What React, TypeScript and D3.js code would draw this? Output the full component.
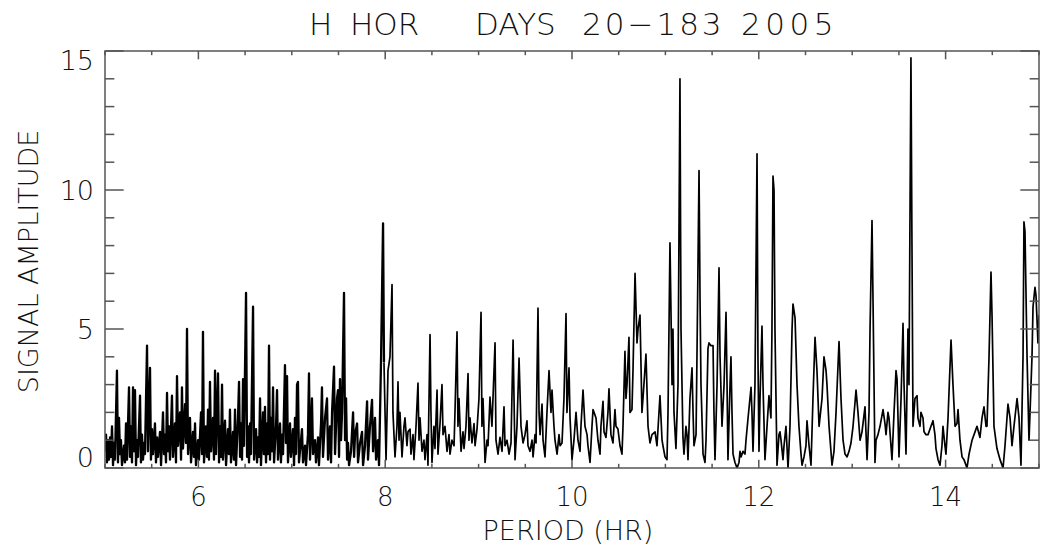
import React from "react";
import * as d3 from "d3";

// Title & axis text
const titleWords = ["H ", "HOR    ", "DAYS  ", "20−183 ", "2005"];
const xTitle = "PERIOD (HR)";
const yTitle = "SIGNAL AMPLITUDE";
const xTickLabels = [6, 8, 10, 12, 14];
const yTickLabels = [0, 5, 10, 15];

// [period (hr), amplitude] turning points
const band5to6_5: [number, number][] = [
  [5.0, 0.6], [5.011, 1.2], [5.021, 0.2], [5.032, 1.0], [5.043, 0.3], [5.054, 1.1], [5.064, 0.4], [5.075, 1.5],
  [5.086, 0.1], [5.096, 0.9], [5.107, 0.3], [5.128, 3.5], [5.139, 0.2], [5.15, 1.8], [5.161, 0.5], [5.171, 1.0],
  [5.182, 0.1], [5.203, 0.8], [5.214, 0.2], [5.225, 1.6], [5.236, 0.3], [5.257, 2.9], [5.268, 0.4], [5.278, 1.5],
  [5.289, 0.2], [5.3, 2.9], [5.311, 0.6], [5.321, 2.8], [5.332, 0.1], [5.343, 1.0], [5.353, 0.4], [5.375, 2.6],
  [5.385, 0.2], [5.396, 1.2], [5.407, 0.3], [5.418, 0.9], [5.428, 0.5], [5.45, 4.4], [5.46, 0.6], [5.482, 3.6],
  [5.492, 0.3], [5.503, 1.4], [5.514, 0.5], [5.535, 1.6], [5.546, 0.2], [5.557, 1.1], [5.567, 0.4], [5.589, 1.3],
  [5.6, 0.1], [5.621, 2.0], [5.632, 0.5], [5.642, 1.2], [5.653, 0.2], [5.664, 2.7], [5.675, 0.6], [5.685, 1.5],
  [5.696, 0.3], [5.717, 2.6], [5.728, 0.4], [5.749, 1.6], [5.76, 0.2], [5.771, 3.3], [5.782, 0.8], [5.803, 2.0],
  [5.814, 0.3], [5.824, 2.9], [5.835, 0.7], [5.857, 2.3], [5.867, 0.9], [5.878, 5.0], [5.889, 0.5], [5.91, 1.8],
  [5.921, 0.2], [5.942, 1.3], [5.953, 0.4], [5.964, 1.6], [5.974, 0.1], [5.996, 1.0], [6.006, 0.3], [6.028, 2.0],
  [6.039, 0.5], [6.049, 4.9], [6.06, 0.2], [6.081, 1.5], [6.092, 0.4], [6.103, 2.1], [6.113, 0.3], [6.124, 3.1],
  [6.135, 0.6], [6.156, 1.8], [6.167, 0.3], [6.178, 3.5], [6.188, 0.5], [6.21, 3.4], [6.221, 0.2], [6.231, 1.5],
  [6.242, 0.4], [6.253, 3.0], [6.263, 0.3], [6.285, 1.7], [6.296, 0.1], [6.317, 1.4], [6.328, 0.5], [6.338, 2.1],
  [6.349, 0.2], [6.371, 1.3], [6.381, 0.3], [6.392, 2.1], [6.403, 0.1], [6.424, 1.8], [6.435, 3.1], [6.446, 0.4],
  [6.456, 1.6], [6.467, 0.3], [6.478, 3.2], [6.488, 0.8],
];

const band6_5to8: [number, number][] = [
  [6.51, 6.3], [6.521, 0.4], [6.531, 1.5], [6.542, 0.2], [6.553, 1.6], [6.563, 0.5], [6.585, 5.8], [6.596, 0.3],
  [6.617, 1.4], [6.628, 0.2], [6.638, 1.1], [6.649, 0.4], [6.66, 2.5], [6.67, 0.1], [6.692, 2.0], [6.702, 0.5],
  [6.713, 2.2], [6.724, 0.2], [6.735, 1.6], [6.745, 0.5], [6.756, 4.4], [6.767, 0.3], [6.777, 1.8], [6.788, 0.6],
  [6.799, 2.9], [6.81, 0.2], [6.831, 1.5], [6.842, 2.8], [6.852, 0.3], [6.874, 1.6], [6.884, 0.2], [6.895, 1.2],
  [6.906, 0.5], [6.927, 3.7], [6.938, 0.9], [6.949, 3.3], [6.959, 0.2], [6.981, 1.6], [6.991, 0.4], [7.013, 1.4],
  [7.024, 0.1], [7.034, 1.8], [7.045, 0.5], [7.056, 3.0], [7.066, 3.1], [7.077, 0.2], [7.109, 1.4], [7.12, 0.2],
  [7.141, 0.8], [7.152, 0.1], [7.173, 1.2], [7.184, 3.4], [7.195, 0.3], [7.216, 2.5], [7.227, 0.5], [7.248, 1.0],
  [7.259, 0.2], [7.281, 1.1], [7.291, 0.1], [7.313, 1.6], [7.323, 2.9], [7.334, 0.4], [7.356, 1.8], [7.377, 2.5],
  [7.388, 0.3], [7.409, 1.5], [7.42, 0.2], [7.431, 2.0], [7.452, 3.65], [7.463, 0.5], [7.484, 2.5], [7.495, 2.8],
  [7.506, 0.4], [7.516, 3.2], [7.527, 1.0], [7.538, 2.0], [7.559, 6.3], [7.57, 1.0], [7.581, 2.5], [7.592, 0.3],
  [7.602, 0.9], [7.613, 0.1], [7.634, 0.6], [7.656, 2.0], [7.667, 0.4], [7.677, 1.2], [7.699, 1.6], [7.709, 0.2],
  [7.731, 0.9], [7.752, 1.3], [7.763, 0.1], [7.784, 0.8], [7.806, 2.4], [7.816, 0.3], [7.837, 1.5], [7.859, 2.45],
  [7.87, 0.6], [7.891, 1.8], [7.902, 0.3], [7.923, 1.0], [7.934, 0.1], [7.955, 3.8], [7.977, 8.8], [7.987, 3.8],
];

const band8to10: [number, number][] = [
  [8.009, 0.3], [8.03, 3.5], [8.051, 4.0], [8.073, 6.6], [8.083, 2.0], [8.105, 0.4], [8.126, 1.5], [8.137, 3.1],
  [8.148, 1.0], [8.158, 2.0], [8.18, 0.4], [8.201, 1.5], [8.212, 1.8], [8.233, 0.8], [8.244, 1.3], [8.266, 1.4],
  [8.276, 0.5], [8.298, 1.2], [8.308, 0.3], [8.33, 1.5], [8.351, 3.05], [8.362, 1.0], [8.373, 1.8], [8.394, 0.6],
  [8.415, 1.0], [8.426, 0.3], [8.448, 1.2], [8.458, 0.1], [8.48, 4.8], [8.49, 2.0], [8.501, 0.2], [8.522, 1.5],
  [8.533, 0.7], [8.555, 2.8], [8.565, 0.5], [8.587, 1.6], [8.608, 3.0], [8.619, 1.2], [8.64, 1.5], [8.662, 0.6],
  [8.683, 1.2], [8.694, 0.5], [8.715, 1.0], [8.737, 0.8], [8.747, 2.0], [8.769, 4.9], [8.779, 1.5], [8.79, 2.5],
  [8.812, 0.6], [8.833, 1.3], [8.844, 0.7], [8.865, 1.5], [8.887, 3.4], [8.897, 1.0], [8.908, 1.8], [8.929, 0.9],
  [8.951, 1.6], [8.962, 0.8], [8.983, 1.4], [9.004, 2.5], [9.026, 5.6], [9.036, 1.5], [9.047, 2.5], [9.069, 0.2],
  [9.09, 1.0], [9.101, 0.8], [9.122, 2.55], [9.143, 1.5], [9.154, 2.5], [9.176, 4.5], [9.186, 1.0], [9.208, 0.5],
  [9.229, 1.1], [9.251, 0.6], [9.272, 2.2], [9.283, 0.8], [9.304, 1.0], [9.326, 0.5], [9.347, 0.9], [9.369, 4.6],
  [9.39, 0.3], [9.411, 1.5], [9.433, 3.95], [9.454, 1.5], [9.476, 0.9], [9.497, 1.2], [9.518, 1.7], [9.529, 0.8],
  [9.55, 0.6], [9.572, 1.0], [9.583, 0.4], [9.604, 1.2], [9.615, 0.9], [9.636, 5.75], [9.647, 2.0], [9.658, 1.2],
  [9.679, 2.3], [9.69, 1.0], [9.711, 0.4], [9.732, 2.0], [9.754, 3.5], [9.775, 2.0], [9.786, 2.8], [9.807, 1.5],
  [9.818, 1.0], [9.84, 0.5], [9.861, 1.2], [9.872, 0.8], [9.893, 0.9], [9.914, 2.5], [9.936, 5.55], [9.946, 2.0],
  [9.968, 3.6], [9.979, 1.8], [10.0, 0.3],
];

const band10to12: [number, number][] = [
  [10.021, 1.0], [10.043, 2.0], [10.064, 1.0], [10.086, 0.6], [10.096, 1.5], [10.118, 2.8], [10.139, 1.5],
  [10.161, 1.2], [10.171, 0.8], [10.193, 0.2], [10.214, 1.5], [10.225, 2.1], [10.236, 2.0], [10.257, 1.8],
  [10.278, 1.0], [10.3, 0.5], [10.31, 1.5], [10.332, 2.4], [10.343, 1.3], [10.364, 1.1], [10.385, 2.0],
  [10.396, 2.85], [10.417, 1.2], [10.439, 0.9], [10.46, 2.1], [10.471, 1.5], [10.492, 1.4], [10.514, 0.8],
  [10.535, 0.5], [10.546, 1.5], [10.567, 4.2], [10.578, 2.5], [10.589, 3.0], [10.61, 4.7], [10.621, 2.0],
  [10.642, 2.1], [10.653, 3.5], [10.675, 7.0], [10.696, 4.5], [10.707, 5.0], [10.728, 5.5], [10.749, 2.0],
  [10.76, 2.5], [10.792, 4.1], [10.814, 1.5], [10.835, 0.9], [10.856, 1.2], [10.889, 1.3], [10.91, 0.8],
  [10.942, 2.6], [10.964, 1.0], [10.974, 0.8], [10.996, 0.4], [11.017, 0.3], [11.028, 2.0], [11.049, 8.1],
  [11.071, 3.0], [11.081, 5.0], [11.092, 2.0], [11.113, 0.7], [11.135, 3.0], [11.156, 14.0], [11.167, 5.0],
  [11.188, 1.1], [11.199, 0.5], [11.22, 1.5], [11.231, 1.2], [11.242, 0.3], [11.263, 2.5], [11.285, 3.6],
  [11.296, 2.0], [11.306, 0.8], [11.328, 1.2], [11.338, 4.0], [11.36, 10.7], [11.371, 6.0], [11.381, 3.0],
  [11.403, 0.5], [11.424, 0.2], [11.435, 1.0], [11.456, 4.3], [11.467, 4.5], [11.488, 4.4], [11.51, 4.4],
  [11.52, 2.0], [11.531, 0.3], [11.553, 3.0], [11.574, 7.2], [11.585, 4.0], [11.606, 1.5], [11.628, 3.0],
  [11.649, 5.6], [11.66, 3.0], [11.67, 0.3], [11.692, 3.0], [11.702, 4.0], [11.713, 2.0], [11.724, 0.5],
  [11.745, 0.2], [11.767, 0.0], [11.788, 0.2], [11.799, 0.6], [11.81, 0.4], [11.831, 0.6], [11.852, 0.5],
  [11.863, 1.0], [11.885, 1.8], [11.917, 2.9], [11.927, 2.0], [11.938, 0.6], [11.959, 3.0], [11.981, 11.3],
  [11.991, 4.0], [12.002, 0.6],
];

const band12to15: [number, number][] = [
  [12.013, 2.5], [12.034, 5.1], [12.045, 3.0], [12.066, 0.3], [12.088, 1.5], [12.109, 2.6], [12.13, 1.8],
  [12.141, 5.0], [12.152, 10.5], [12.163, 10.0], [12.173, 5.0], [12.195, 0.1], [12.216, 1.2], [12.227, 1.3],
  [12.238, 1.0], [12.259, 0.3], [12.27, 0.8], [12.291, 1.5], [12.313, 0.0], [12.334, 1.5], [12.356, 5.0],
  [12.366, 5.9], [12.388, 5.4], [12.409, 3.0], [12.43, 1.5], [12.452, 0.5], [12.463, 0.1], [12.484, 0.4],
  [12.505, 0.8], [12.516, 1.7], [12.538, 0.8], [12.559, 0.1], [12.58, 2.5], [12.602, 4.7], [12.623, 3.5],
  [12.645, 1.5], [12.655, 1.8], [12.677, 2.5], [12.698, 4.0], [12.72, 3.5], [12.73, 3.0], [12.752, 1.5],
  [12.784, 0.1], [12.805, 0.6], [12.827, 2.0], [12.859, 4.55], [12.88, 2.5], [12.902, 1.0], [12.923, 0.5],
  [12.945, 0.4], [12.966, 0.6], [12.987, 0.9], [13.009, 1.5], [13.041, 2.8], [13.062, 2.0], [13.084, 1.0],
  [13.105, 1.3], [13.137, 2.2], [13.159, 0.3], [13.18, 2.0], [13.191, 5.0], [13.212, 8.9], [13.223, 6.0],
  [13.244, 0.2], [13.255, 1.0], [13.276, 1.2], [13.298, 1.5], [13.33, 2.1], [13.351, 1.6], [13.362, 1.2],
  [13.383, 2.0], [13.394, 1.8], [13.415, 0.8], [13.426, 0.3], [13.448, 2.0], [13.469, 3.5], [13.48, 3.2],
  [13.501, 0.4], [13.523, 2.5], [13.544, 5.2], [13.555, 3.0], [13.576, 0.5], [13.597, 5.0], [13.608, 3.0],
  [13.629, 14.75], [13.64, 8.0], [13.651, 1.5], [13.672, 2.5], [13.694, 2.6], [13.704, 1.8], [13.726, 1.5],
  [13.736, 2.0], [13.758, 1.8], [13.769, 1.3], [13.79, 1.2], [13.812, 1.2], [13.833, 1.4], [13.865, 1.7],
  [13.886, 1.2], [13.897, 0.7], [13.919, 0.3], [13.94, 0.1], [13.961, 0.8], [13.972, 1.5], [13.993, 0.8],
  [14.004, 0.5], [14.026, 1.8], [14.058, 4.6], [14.079, 3.0], [14.101, 1.5], [14.122, 1.6], [14.133, 2.1],
  [14.154, 1.0], [14.176, 0.4], [14.197, 0.3], [14.229, 0.0], [14.251, 0.5], [14.283, 1.0], [14.315, 1.3],
  [14.336, 1.5], [14.368, 1.1], [14.39, 1.8], [14.411, 2.2], [14.433, 1.5], [14.443, 1.5], [14.465, 4.0],
  [14.486, 7.05], [14.497, 5.5], [14.518, 1.5], [14.55, 0.7], [14.583, 0.3], [14.615, 0.0], [14.636, 0.8],
  [14.668, 2.3], [14.69, 1.8], [14.711, 0.8], [14.732, 1.5], [14.765, 2.5], [14.786, 1.8], [14.807, 0.1],
  [14.829, 4.0], [14.839, 8.85], [14.85, 8.5], [14.872, 4.0], [14.893, 1.0], [14.904, 2.0], [14.925, 4.0],
  [14.936, 5.8], [14.957, 6.5], [14.968, 6.2], [14.989, 4.5], [15.0, 5.5],
];

const W = 1045;
const H = 550;
const M = { left: 105, right: 1039, top: 51, bottom: 468 };
const FONT = "'DejaVu Sans', 'Liberation Sans', sans-serif";
const TEXT_COLOR = "#111";
const AXIS_COLOR = "#555";

const titleX = [309, 350, 475, 582, 741];
const titleSpacing = [0, 0, 0, 3, 4.5];

export default function App() {
  const denseSeries = [...band5to6_5, ...band6_5to8];
  const sparseSeries = [band6_5to8[band6_5to8.length - 1], ...band8to10, ...band10to12, ...band12to15];
  const x = d3.scaleLinear().domain([5, 15]).range([M.left, M.right]);
  const y = d3.scaleLinear().domain([0, 15]).range([M.bottom, M.top]);
  const line = d3
    .line<[number, number]>()
    .x((d) => x(d[0]))
    .y((d) => y(d[1]));

  const plotW = M.right - M.left;
  const plotH = M.bottom - M.top;
  const xMajorLen = plotH * 0.02;
  const yMajorLen = plotW * 0.02;
  const xMinor = d3.range(5, 15.001, 0.5).filter((v) => !xTickLabels.includes(v));
  const yMinor = d3.range(0, 15.001, 1).filter((v) => !yTickLabels.includes(v));

  return (
    <svg
      width={W}
      height={H}
      style={{ position: "absolute", left: 0, top: 0, display: "block", background: "#fff" }}
    >
      <defs>
        <clipPath id="plotclip">
          <rect x={M.left} y={M.top - 2} width={plotW} height={plotH + 2} />
        </clipPath>
      </defs>

      {/* title */}
      <text
        y={34.5}
        fontFamily={FONT}
        fontSize={31}
        fontWeight={200}
        fill={TEXT_COLOR}
        style={{ whiteSpace: "pre" }}
      >
        {titleWords.map((w, i) => (
          <tspan key={i} x={titleX[i]} letterSpacing={titleSpacing[i]}>
            {w}
          </tspan>
        ))}
      </text>

      {/* data line */}
      <g clipPath="url(#plotclip)" fill="none" stroke="#000" strokeLinejoin="round">
        <path d={line(denseSeries) || ""} strokeWidth={2.3} />
        <path d={line(sparseSeries) || ""} strokeWidth={1.7} />
      </g>

      {/* frame */}
      <rect
        x={M.left}
        y={M.top}
        width={plotW}
        height={plotH}
        fill="none"
        stroke={AXIS_COLOR}
        strokeWidth={1.5}
      />

      {/* x ticks (bottom & top) */}
      {xTickLabels.map((v) => (
        <g key={"xM" + v} stroke={AXIS_COLOR} strokeWidth={1.5}>
          <line x1={x(v)} x2={x(v)} y1={M.bottom} y2={M.bottom - xMajorLen} />
          <line x1={x(v)} x2={x(v)} y1={M.top} y2={M.top + xMajorLen} />
        </g>
      ))}
      {xMinor.map((v) => (
        <g key={"xm" + v} stroke={AXIS_COLOR} strokeWidth={1.5}>
          <line x1={x(v)} x2={x(v)} y1={M.bottom} y2={M.bottom - xMajorLen / 2} />
          <line x1={x(v)} x2={x(v)} y1={M.top} y2={M.top + xMajorLen / 2} />
        </g>
      ))}

      {/* y ticks (left & right) */}
      {yTickLabels.map((v) => (
        <g key={"yM" + v} stroke={AXIS_COLOR} strokeWidth={1.5}>
          <line x1={M.left} x2={M.left + yMajorLen} y1={y(v)} y2={y(v)} />
          <line x1={M.right} x2={M.right - yMajorLen} y1={y(v)} y2={y(v)} />
        </g>
      ))}
      {yMinor.map((v) => (
        <g key={"ym" + v} stroke={AXIS_COLOR} strokeWidth={1.5}>
          <line x1={M.left} x2={M.left + yMajorLen / 2} y1={y(v)} y2={y(v)} />
          <line x1={M.right} x2={M.right - yMajorLen / 2} y1={y(v)} y2={y(v)} />
        </g>
      ))}

      {/* x tick labels */}
      {xTickLabels.map((v) => (
        <text
          key={"xl" + v}
          x={x(v)}
          y={506}
          textAnchor="middle"
          fontFamily={FONT}
          fontSize={26}
          fontWeight={200}
          fill={TEXT_COLOR}
        >
          {v}
        </text>
      ))}

      {/* y tick labels */}
      {yTickLabels.map((v) => (
        <text
          key={"yl" + v}
          x={94}
          y={Math.max(70, Math.min(467, y(v) + 10))}
          textAnchor="end"
          fontFamily={FONT}
          fontSize={27}
          fontWeight={200}
          fill={TEXT_COLOR}
        >
          {v}
        </text>
      ))}

      {/* axis titles */}
      <text
        x={568}
        y={540}
        textAnchor="middle"
        fontFamily={FONT}
        fontSize={27}
        fontWeight={200}
        fill={TEXT_COLOR}
      >
        {xTitle}
      </text>
      <text
        transform={`translate(38, ${(M.top + M.bottom) / 2 + 2}) rotate(-90)`}
        textAnchor="middle"
        fontFamily={FONT}
        fontSize={27}
        fontWeight={200}
        fill={TEXT_COLOR}
      >
        {yTitle}
      </text>
    </svg>
  );
}
